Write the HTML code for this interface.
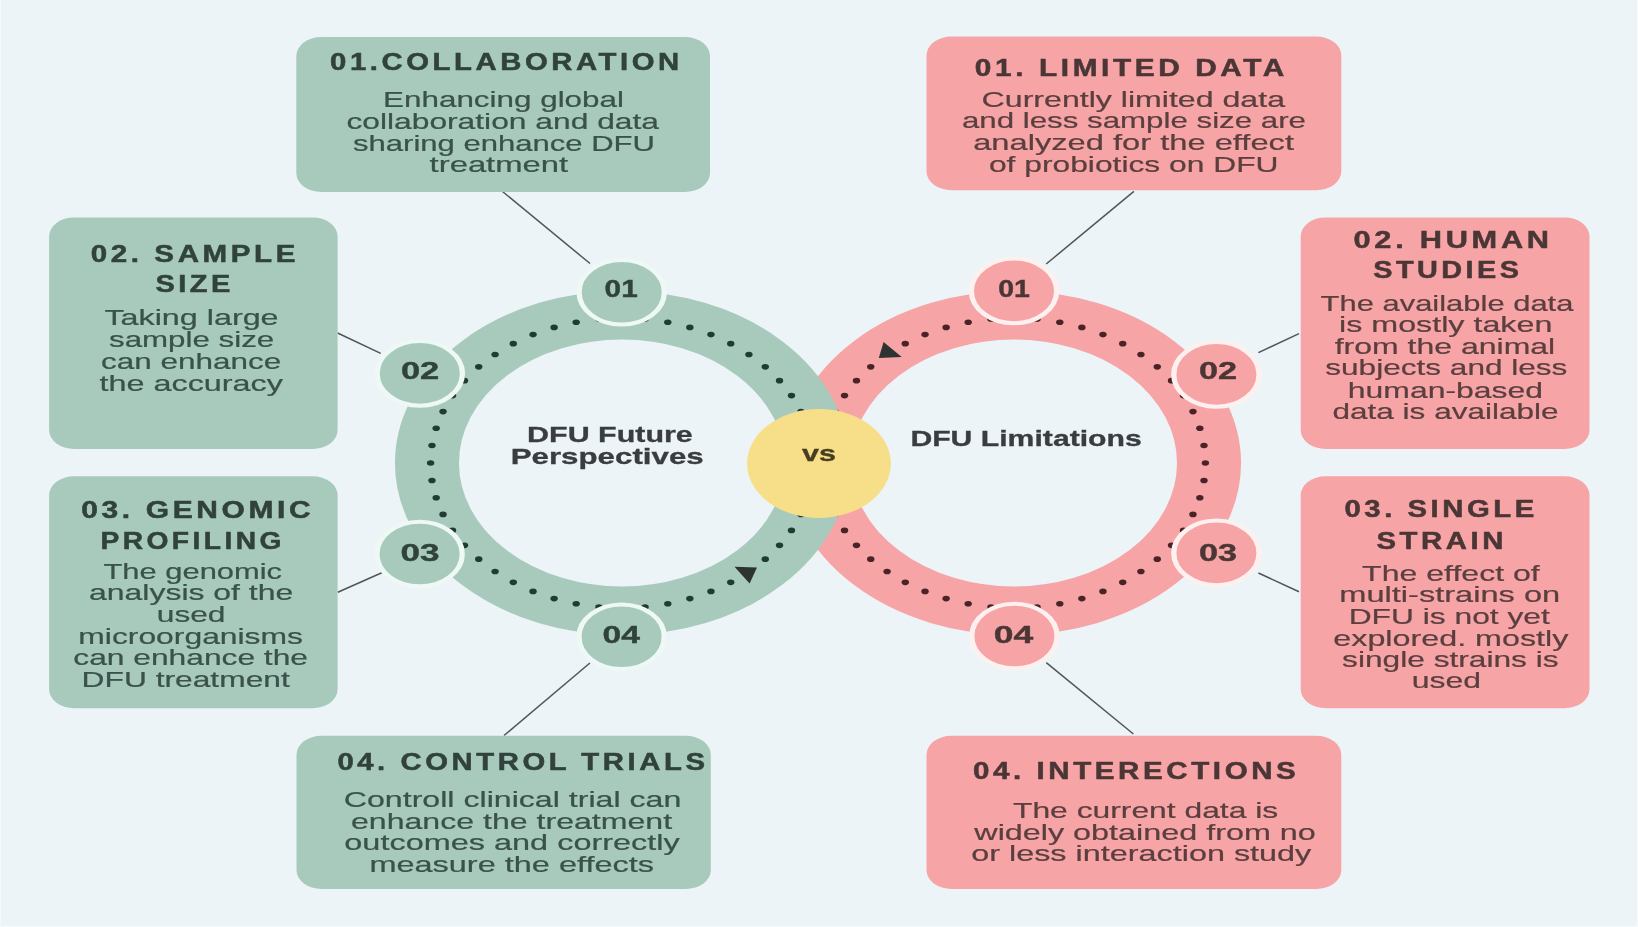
<!DOCTYPE html>
<html><head><meta charset="utf-8"><title>DFU Future Perspectives vs DFU Limitations</title>
<style>
html,body{margin:0;padding:0;background:#EDF4F7;overflow:hidden;}
svg{display:block;filter:blur(0.7px);}
text{font-family:"Liberation Sans",sans-serif;}
</style></head><body>
<svg width="1638" height="927" viewBox="0 0 1638 927">
<rect x="0" y="0" width="1638" height="927" fill="#EDF4F7"/>
<rect x="1637" y="0" width="1" height="927" fill="#F6FAFB"/>
<rect x="0" y="926" width="1638" height="1" fill="#F6FAFB"/>
<rect x="0" y="0" width="1" height="927" fill="#F4F9FA"/>
<g transform="scale(1.32,1)">
<line x1="380.682" y1="191.5" x2="446.97" y2="263.5" stroke="#505555" stroke-width="1.5" vector-effect="non-scaling-stroke"/>
<line x1="255.758" y1="333.0" x2="288.409" y2="353.4" stroke="#505555" stroke-width="1.5" vector-effect="non-scaling-stroke"/>
<line x1="255.909" y1="592.2" x2="289.242" y2="572.8" stroke="#505555" stroke-width="1.5" vector-effect="non-scaling-stroke"/>
<line x1="381.818" y1="735.5" x2="446.894" y2="663.0" stroke="#505555" stroke-width="1.5" vector-effect="non-scaling-stroke"/>
<line x1="792.576" y1="264.0" x2="859.015" y2="191.4" stroke="#505555" stroke-width="1.5" vector-effect="non-scaling-stroke"/>
<line x1="953.333" y1="352.6" x2="984.091" y2="333.6" stroke="#505555" stroke-width="1.5" vector-effect="non-scaling-stroke"/>
<line x1="953.333" y1="573.0" x2="984.091" y2="591.8" stroke="#505555" stroke-width="1.5" vector-effect="non-scaling-stroke"/>
<line x1="792.652" y1="662.6" x2="858.636" y2="734.0" stroke="#505555" stroke-width="1.5" vector-effect="non-scaling-stroke"/>
<rect x="224.47" y="37.0" width="313.409" height="155.0" rx="19.0" ry="19.0" fill="#A8CABD"/>
<rect x="37.197" y="217.4" width="218.561" height="231.6" rx="19.0" ry="19.0" fill="#A8CABD"/>
<rect x="37.197" y="476.3" width="218.561" height="231.9" rx="19.0" ry="19.0" fill="#A8CABD"/>
<rect x="224.621" y="735.7" width="313.864" height="153.3" rx="19.0" ry="19.0" fill="#A8CABD"/>
<rect x="701.894" y="36.5" width="314.242" height="153.8" rx="19.0" ry="19.0" fill="#F7A4A7"/>
<rect x="985.379" y="217.4" width="218.788" height="231.6" rx="19.0" ry="19.0" fill="#F7A4A7"/>
<rect x="985.379" y="476.3" width="218.788" height="231.9" rx="19.0" ry="19.0" fill="#F7A4A7"/>
<rect x="701.894" y="735.7" width="314.242" height="153.3" rx="19.0" ry="19.0" fill="#F7A4A7"/>
<circle cx="768.182" cy="463.0" r="147.75" fill="none" stroke="#F7A4A7" stroke-width="48.5"/>
<circle cx="913.18" cy="463.00" r="2.8" fill="#4A2326"/>
<circle cx="912.12" cy="480.48" r="2.8" fill="#4A2326"/>
<circle cx="908.97" cy="497.70" r="2.8" fill="#4A2326"/>
<circle cx="903.76" cy="514.42" r="2.8" fill="#4A2326"/>
<circle cx="896.57" cy="530.38" r="2.8" fill="#4A2326"/>
<circle cx="887.51" cy="545.37" r="2.8" fill="#4A2326"/>
<circle cx="876.72" cy="559.15" r="2.8" fill="#4A2326"/>
<circle cx="864.33" cy="571.53" r="2.8" fill="#4A2326"/>
<circle cx="850.55" cy="582.33" r="2.8" fill="#4A2326"/>
<circle cx="835.57" cy="591.39" r="2.8" fill="#4A2326"/>
<circle cx="819.60" cy="598.58" r="2.8" fill="#4A2326"/>
<circle cx="802.88" cy="603.79" r="2.8" fill="#4A2326"/>
<circle cx="785.66" cy="606.94" r="2.8" fill="#4A2326"/>
<circle cx="768.18" cy="608.00" r="2.8" fill="#4A2326"/>
<circle cx="750.70" cy="606.94" r="2.8" fill="#4A2326"/>
<circle cx="733.48" cy="603.79" r="2.8" fill="#4A2326"/>
<circle cx="716.76" cy="598.58" r="2.8" fill="#4A2326"/>
<circle cx="700.80" cy="591.39" r="2.8" fill="#4A2326"/>
<circle cx="685.81" cy="582.33" r="2.8" fill="#4A2326"/>
<circle cx="672.03" cy="571.53" r="2.8" fill="#4A2326"/>
<circle cx="659.65" cy="559.15" r="2.8" fill="#4A2326"/>
<circle cx="648.85" cy="545.37" r="2.8" fill="#4A2326"/>
<circle cx="639.79" cy="530.38" r="2.8" fill="#4A2326"/>
<circle cx="632.60" cy="514.42" r="2.8" fill="#4A2326"/>
<circle cx="627.40" cy="497.70" r="2.8" fill="#4A2326"/>
<circle cx="624.24" cy="480.48" r="2.8" fill="#4A2326"/>
<circle cx="623.18" cy="463.00" r="2.8" fill="#4A2326"/>
<circle cx="624.24" cy="445.52" r="2.8" fill="#4A2326"/>
<circle cx="627.40" cy="428.30" r="2.8" fill="#4A2326"/>
<circle cx="632.60" cy="411.58" r="2.8" fill="#4A2326"/>
<circle cx="639.79" cy="395.62" r="2.8" fill="#4A2326"/>
<circle cx="648.85" cy="380.63" r="2.8" fill="#4A2326"/>
<circle cx="659.65" cy="366.85" r="2.8" fill="#4A2326"/>
<circle cx="685.81" cy="343.67" r="2.8" fill="#4A2326"/>
<circle cx="700.80" cy="334.61" r="2.8" fill="#4A2326"/>
<circle cx="716.76" cy="327.42" r="2.8" fill="#4A2326"/>
<circle cx="733.48" cy="322.21" r="2.8" fill="#4A2326"/>
<circle cx="750.70" cy="319.06" r="2.8" fill="#4A2326"/>
<circle cx="768.18" cy="318.00" r="2.8" fill="#4A2326"/>
<circle cx="785.66" cy="319.06" r="2.8" fill="#4A2326"/>
<circle cx="802.88" cy="322.21" r="2.8" fill="#4A2326"/>
<circle cx="819.60" cy="327.42" r="2.8" fill="#4A2326"/>
<circle cx="835.57" cy="334.61" r="2.8" fill="#4A2326"/>
<circle cx="850.55" cy="343.67" r="2.8" fill="#4A2326"/>
<circle cx="864.33" cy="354.47" r="2.8" fill="#4A2326"/>
<circle cx="876.72" cy="366.85" r="2.8" fill="#4A2326"/>
<circle cx="887.51" cy="380.63" r="2.8" fill="#4A2326"/>
<circle cx="896.57" cy="395.62" r="2.8" fill="#4A2326"/>
<circle cx="903.76" cy="411.58" r="2.8" fill="#4A2326"/>
<circle cx="908.97" cy="428.30" r="2.8" fill="#4A2326"/>
<circle cx="912.12" cy="445.52" r="2.8" fill="#4A2326"/>
<polygon points="669.394,342.0 665.758,358.0 683.106,356.9" fill="#2C3331"/>
<circle cx="471.212" cy="463.0" r="147.75" fill="none" stroke="#A8CABD" stroke-width="48.5"/>
<circle cx="616.21" cy="463.00" r="2.8" fill="#1F3B33"/>
<circle cx="615.15" cy="480.48" r="2.8" fill="#1F3B33"/>
<circle cx="612.00" cy="497.70" r="2.8" fill="#1F3B33"/>
<circle cx="606.79" cy="514.42" r="2.8" fill="#1F3B33"/>
<circle cx="599.60" cy="530.38" r="2.8" fill="#1F3B33"/>
<circle cx="590.54" cy="545.37" r="2.8" fill="#1F3B33"/>
<circle cx="579.75" cy="559.15" r="2.8" fill="#1F3B33"/>
<circle cx="553.58" cy="582.33" r="2.8" fill="#1F3B33"/>
<circle cx="538.60" cy="591.39" r="2.8" fill="#1F3B33"/>
<circle cx="522.63" cy="598.58" r="2.8" fill="#1F3B33"/>
<circle cx="505.91" cy="603.79" r="2.8" fill="#1F3B33"/>
<circle cx="488.69" cy="606.94" r="2.8" fill="#1F3B33"/>
<circle cx="471.21" cy="608.00" r="2.8" fill="#1F3B33"/>
<circle cx="453.73" cy="606.94" r="2.8" fill="#1F3B33"/>
<circle cx="436.51" cy="603.79" r="2.8" fill="#1F3B33"/>
<circle cx="419.79" cy="598.58" r="2.8" fill="#1F3B33"/>
<circle cx="403.83" cy="591.39" r="2.8" fill="#1F3B33"/>
<circle cx="388.84" cy="582.33" r="2.8" fill="#1F3B33"/>
<circle cx="375.06" cy="571.53" r="2.8" fill="#1F3B33"/>
<circle cx="362.68" cy="559.15" r="2.8" fill="#1F3B33"/>
<circle cx="351.88" cy="545.37" r="2.8" fill="#1F3B33"/>
<circle cx="342.82" cy="530.38" r="2.8" fill="#1F3B33"/>
<circle cx="335.63" cy="514.42" r="2.8" fill="#1F3B33"/>
<circle cx="330.43" cy="497.70" r="2.8" fill="#1F3B33"/>
<circle cx="327.27" cy="480.48" r="2.8" fill="#1F3B33"/>
<circle cx="326.21" cy="463.00" r="2.8" fill="#1F3B33"/>
<circle cx="327.27" cy="445.52" r="2.8" fill="#1F3B33"/>
<circle cx="330.43" cy="428.30" r="2.8" fill="#1F3B33"/>
<circle cx="335.63" cy="411.58" r="2.8" fill="#1F3B33"/>
<circle cx="342.82" cy="395.62" r="2.8" fill="#1F3B33"/>
<circle cx="351.88" cy="380.63" r="2.8" fill="#1F3B33"/>
<circle cx="362.68" cy="366.85" r="2.8" fill="#1F3B33"/>
<circle cx="375.06" cy="354.47" r="2.8" fill="#1F3B33"/>
<circle cx="388.84" cy="343.67" r="2.8" fill="#1F3B33"/>
<circle cx="403.83" cy="334.61" r="2.8" fill="#1F3B33"/>
<circle cx="419.79" cy="327.42" r="2.8" fill="#1F3B33"/>
<circle cx="436.51" cy="322.21" r="2.8" fill="#1F3B33"/>
<circle cx="453.73" cy="319.06" r="2.8" fill="#1F3B33"/>
<circle cx="471.21" cy="318.00" r="2.8" fill="#1F3B33"/>
<circle cx="488.69" cy="319.06" r="2.8" fill="#1F3B33"/>
<circle cx="505.91" cy="322.21" r="2.8" fill="#1F3B33"/>
<circle cx="522.63" cy="327.42" r="2.8" fill="#1F3B33"/>
<circle cx="538.60" cy="334.61" r="2.8" fill="#1F3B33"/>
<circle cx="553.58" cy="343.67" r="2.8" fill="#1F3B33"/>
<circle cx="567.36" cy="354.47" r="2.8" fill="#1F3B33"/>
<circle cx="579.75" cy="366.85" r="2.8" fill="#1F3B33"/>
<circle cx="590.54" cy="380.63" r="2.8" fill="#1F3B33"/>
<circle cx="599.60" cy="395.62" r="2.8" fill="#1F3B33"/>
<circle cx="606.79" cy="411.58" r="2.8" fill="#1F3B33"/>
<circle cx="612.00" cy="428.30" r="2.8" fill="#1F3B33"/>
<circle cx="615.15" cy="445.52" r="2.8" fill="#1F3B33"/>
<polygon points="556.439,566.7 573.485,567.5 567.879,583.5" fill="#2C3331"/>
<circle cx="620.455" cy="463.5" r="54.5" fill="#F7DE88"/>
<circle cx="470.985" cy="292.3" r="32.3" fill="#A8CABD" stroke="#EEF8F5" stroke-width="4.0"/>
<circle cx="318.03" cy="373.4" r="32.3" fill="#A8CABD" stroke="#EEF8F5" stroke-width="4.0"/>
<circle cx="317.879" cy="554.0" r="32.3" fill="#A8CABD" stroke="#EEF8F5" stroke-width="4.0"/>
<circle cx="470.909" cy="636.7" r="32.3" fill="#A8CABD" stroke="#EEF8F5" stroke-width="4.0"/>
<circle cx="768.182" cy="290.9" r="32.3" fill="#F7A4A7" stroke="#FDF1F0" stroke-width="4.0"/>
<circle cx="921.515" cy="374.4" r="32.3" fill="#F7A4A7" stroke="#FDF1F0" stroke-width="4.0"/>
<circle cx="921.515" cy="552.9" r="32.3" fill="#F7A4A7" stroke="#FDF1F0" stroke-width="4.0"/>
<circle cx="768.485" cy="636.0" r="32.3" fill="#F7A4A7" stroke="#FDF1F0" stroke-width="4.0"/>
<text x="250.076" y="70.2" font-size="23.0" font-weight="bold" fill="#30423B" stroke="#30423B" stroke-width="0.5" letter-spacing="2.8" textLength="267.121" lengthAdjust="spacingAndGlyphs">01.COLLABORATION</text>
<text x="68.712" y="261.7" font-size="23.0" font-weight="bold" fill="#30423B" stroke="#30423B" stroke-width="0.5" letter-spacing="2.8" textLength="157.803" lengthAdjust="spacingAndGlyphs">02. SAMPLE</text>
<text x="117.727" y="292.5" font-size="23.0" font-weight="bold" fill="#30423B" stroke="#30423B" stroke-width="0.5" letter-spacing="2.8" textLength="59.47" lengthAdjust="spacingAndGlyphs">SIZE</text>
<text x="61.591" y="518.0" font-size="23.0" font-weight="bold" fill="#30423B" stroke="#30423B" stroke-width="0.5" letter-spacing="2.8" textLength="176.515" lengthAdjust="spacingAndGlyphs">03. GENOMIC</text>
<text x="76.136" y="549.2" font-size="23.0" font-weight="bold" fill="#30423B" stroke="#30423B" stroke-width="0.5" letter-spacing="2.8" textLength="139.621" lengthAdjust="spacingAndGlyphs">PROFILING</text>
<text x="255.606" y="770.3" font-size="23.0" font-weight="bold" fill="#30423B" stroke="#30423B" stroke-width="0.5" letter-spacing="2.8" textLength="281.136" lengthAdjust="spacingAndGlyphs">04. CONTROL TRIALS</text>
<text x="290.227" y="107.2" font-size="22.6" font-weight="normal" fill="#3A524A" stroke="#3A524A" stroke-width="0.22" textLength="182.5" lengthAdjust="spacingAndGlyphs">Enhancing global</text>
<text x="262.424" y="128.8" font-size="22.6" font-weight="normal" fill="#3A524A" stroke="#3A524A" stroke-width="0.22" textLength="236.818" lengthAdjust="spacingAndGlyphs">collaboration and data</text>
<text x="267.424" y="150.7" font-size="22.6" font-weight="normal" fill="#3A524A" stroke="#3A524A" stroke-width="0.22" textLength="228.788" lengthAdjust="spacingAndGlyphs">sharing enhance DFU</text>
<text x="325.455" y="172.2" font-size="22.6" font-weight="normal" fill="#3A524A" stroke="#3A524A" stroke-width="0.22" textLength="105.0" lengthAdjust="spacingAndGlyphs">treatment</text>
<text x="79.091" y="324.8" font-size="22.6" font-weight="normal" fill="#3A524A" stroke="#3A524A" stroke-width="0.22" textLength="131.97" lengthAdjust="spacingAndGlyphs">Taking large</text>
<text x="82.576" y="347.2" font-size="22.6" font-weight="normal" fill="#3A524A" stroke="#3A524A" stroke-width="0.22" textLength="125.152" lengthAdjust="spacingAndGlyphs">sample size</text>
<text x="76.591" y="368.8" font-size="22.6" font-weight="normal" fill="#3A524A" stroke="#3A524A" stroke-width="0.22" textLength="136.439" lengthAdjust="spacingAndGlyphs">can enhance</text>
<text x="75.379" y="390.7" font-size="22.6" font-weight="normal" fill="#3A524A" stroke="#3A524A" stroke-width="0.22" textLength="139.015" lengthAdjust="spacingAndGlyphs">the accuracy</text>
<text x="78.409" y="579.2" font-size="22.6" font-weight="normal" fill="#3A524A" stroke="#3A524A" stroke-width="0.22" textLength="135.227" lengthAdjust="spacingAndGlyphs">The genomic</text>
<text x="67.5" y="600.2" font-size="22.6" font-weight="normal" fill="#3A524A" stroke="#3A524A" stroke-width="0.22" textLength="154.621" lengthAdjust="spacingAndGlyphs">analysis of the</text>
<text x="118.788" y="622.0" font-size="22.6" font-weight="normal" fill="#3A524A" stroke="#3A524A" stroke-width="0.22" textLength="52.045" lengthAdjust="spacingAndGlyphs">used</text>
<text x="59.318" y="643.7" font-size="22.6" font-weight="normal" fill="#3A524A" stroke="#3A524A" stroke-width="0.22" textLength="170.227" lengthAdjust="spacingAndGlyphs">microorganisms</text>
<text x="55.53" y="664.7" font-size="22.6" font-weight="normal" fill="#3A524A" stroke="#3A524A" stroke-width="0.22" textLength="177.803" lengthAdjust="spacingAndGlyphs">can enhance the</text>
<text x="61.818" y="686.6" font-size="22.6" font-weight="normal" fill="#3A524A" stroke="#3A524A" stroke-width="0.22" textLength="157.727" lengthAdjust="spacingAndGlyphs">DFU treatment</text>
<text x="260.455" y="807.4" font-size="22.6" font-weight="normal" fill="#3A524A" stroke="#3A524A" stroke-width="0.22" textLength="255.682" lengthAdjust="spacingAndGlyphs">Controll clinical trial can</text>
<text x="265.909" y="829.3" font-size="22.6" font-weight="normal" fill="#3A524A" stroke="#3A524A" stroke-width="0.22" textLength="243.258" lengthAdjust="spacingAndGlyphs">enhance the treatment</text>
<text x="260.833" y="850.5" font-size="22.6" font-weight="normal" fill="#3A524A" stroke="#3A524A" stroke-width="0.22" textLength="254.167" lengthAdjust="spacingAndGlyphs">outcomes and correctly</text>
<text x="279.848" y="872.5" font-size="22.6" font-weight="normal" fill="#3A524A" stroke="#3A524A" stroke-width="0.22" textLength="215.606" lengthAdjust="spacingAndGlyphs">measure the effects</text>
<text x="738.485" y="75.8" font-size="23.0" font-weight="bold" fill="#4B3636" stroke="#4B3636" stroke-width="0.5" letter-spacing="2.8" textLength="237.273" lengthAdjust="spacingAndGlyphs">01. LIMITED DATA</text>
<text x="1025.379" y="247.7" font-size="23.0" font-weight="bold" fill="#4B3636" stroke="#4B3636" stroke-width="0.5" letter-spacing="2.8" textLength="150.985" lengthAdjust="spacingAndGlyphs">02. HUMAN</text>
<text x="1040.303" y="278.5" font-size="23.0" font-weight="bold" fill="#4B3636" stroke="#4B3636" stroke-width="0.5" letter-spacing="2.8" textLength="113.106" lengthAdjust="spacingAndGlyphs">STUDIES</text>
<text x="1018.561" y="517.5" font-size="23.0" font-weight="bold" fill="#4B3636" stroke="#4B3636" stroke-width="0.5" letter-spacing="2.8" textLength="146.439" lengthAdjust="spacingAndGlyphs">03. SINGLE</text>
<text x="1042.803" y="548.9" font-size="23.0" font-weight="bold" fill="#4B3636" stroke="#4B3636" stroke-width="0.5" letter-spacing="2.8" textLength="98.788" lengthAdjust="spacingAndGlyphs">STRAIN</text>
<text x="737.045" y="779.0" font-size="23.0" font-weight="bold" fill="#4B3636" stroke="#4B3636" stroke-width="0.5" letter-spacing="2.8" textLength="247.348" lengthAdjust="spacingAndGlyphs">04. INTERECTIONS</text>
<text x="743.636" y="107.4" font-size="22.6" font-weight="normal" fill="#5B3F3F" stroke="#5B3F3F" stroke-width="0.22" textLength="229.848" lengthAdjust="spacingAndGlyphs">Currently limited data</text>
<text x="728.712" y="128.5" font-size="22.6" font-weight="normal" fill="#5B3F3F" stroke="#5B3F3F" stroke-width="0.22" textLength="260.682" lengthAdjust="spacingAndGlyphs">and less sample size are</text>
<text x="737.273" y="150.0" font-size="22.6" font-weight="normal" fill="#5B3F3F" stroke="#5B3F3F" stroke-width="0.22" textLength="243.03" lengthAdjust="spacingAndGlyphs">analyzed for the effect</text>
<text x="749.167" y="171.6" font-size="22.6" font-weight="normal" fill="#5B3F3F" stroke="#5B3F3F" stroke-width="0.22" textLength="219.47" lengthAdjust="spacingAndGlyphs">of probiotics on DFU</text>
<text x="1000.455" y="310.8" font-size="22.6" font-weight="normal" fill="#5B3F3F" stroke="#5B3F3F" stroke-width="0.22" textLength="191.515" lengthAdjust="spacingAndGlyphs">The available data</text>
<text x="1014.394" y="332.4" font-size="22.6" font-weight="normal" fill="#5B3F3F" stroke="#5B3F3F" stroke-width="0.22" textLength="161.667" lengthAdjust="spacingAndGlyphs">is mostly taken</text>
<text x="1011.136" y="354.2" font-size="22.6" font-weight="normal" fill="#5B3F3F" stroke="#5B3F3F" stroke-width="0.22" textLength="167.045" lengthAdjust="spacingAndGlyphs">from the animal</text>
<text x="1004.015" y="375.3" font-size="22.6" font-weight="normal" fill="#5B3F3F" stroke="#5B3F3F" stroke-width="0.22" textLength="183.409" lengthAdjust="spacingAndGlyphs">subjects and less</text>
<text x="1021.061" y="397.7" font-size="22.6" font-weight="normal" fill="#5B3F3F" stroke="#5B3F3F" stroke-width="0.22" textLength="147.879" lengthAdjust="spacingAndGlyphs">human-based</text>
<text x="1009.47" y="418.7" font-size="22.6" font-weight="normal" fill="#5B3F3F" stroke="#5B3F3F" stroke-width="0.22" textLength="171.288" lengthAdjust="spacingAndGlyphs">data is available</text>
<text x="1031.894" y="580.6" font-size="22.6" font-weight="normal" fill="#5B3F3F" stroke="#5B3F3F" stroke-width="0.22" textLength="134.621" lengthAdjust="spacingAndGlyphs">The effect of</text>
<text x="1014.621" y="602.5" font-size="22.6" font-weight="normal" fill="#5B3F3F" stroke="#5B3F3F" stroke-width="0.22" textLength="167.348" lengthAdjust="spacingAndGlyphs">multi-strains on</text>
<text x="1021.742" y="624.0" font-size="22.6" font-weight="normal" fill="#5B3F3F" stroke="#5B3F3F" stroke-width="0.22" textLength="152.348" lengthAdjust="spacingAndGlyphs">DFU is not yet</text>
<text x="1010.076" y="645.6" font-size="22.6" font-weight="normal" fill="#5B3F3F" stroke="#5B3F3F" stroke-width="0.22" textLength="178.106" lengthAdjust="spacingAndGlyphs">explored. mostly</text>
<text x="1016.742" y="667.5" font-size="22.6" font-weight="normal" fill="#5B3F3F" stroke="#5B3F3F" stroke-width="0.22" textLength="164.015" lengthAdjust="spacingAndGlyphs">single strains is</text>
<text x="1069.545" y="688.5" font-size="22.6" font-weight="normal" fill="#5B3F3F" stroke="#5B3F3F" stroke-width="0.22" textLength="52.5" lengthAdjust="spacingAndGlyphs">used</text>
<text x="767.424" y="818.0" font-size="22.6" font-weight="normal" fill="#5B3F3F" stroke="#5B3F3F" stroke-width="0.22" textLength="200.909" lengthAdjust="spacingAndGlyphs">The current data is</text>
<text x="738.106" y="840.0" font-size="22.6" font-weight="normal" fill="#5B3F3F" stroke="#5B3F3F" stroke-width="0.22" textLength="258.712" lengthAdjust="spacingAndGlyphs">widely obtained from no</text>
<text x="735.758" y="861.5" font-size="22.6" font-weight="normal" fill="#5B3F3F" stroke="#5B3F3F" stroke-width="0.22" textLength="257.652" lengthAdjust="spacingAndGlyphs">or less interaction study</text>
<text x="399.318" y="442.2" font-size="22.4" font-weight="bold" fill="#3A3D3F" stroke="#3A3D3F" stroke-width="0.3" textLength="125.53" lengthAdjust="spacingAndGlyphs">DFU Future</text>
<text x="386.894" y="464.0" font-size="22.4" font-weight="bold" fill="#3A3D3F" stroke="#3A3D3F" stroke-width="0.3" textLength="146.212" lengthAdjust="spacingAndGlyphs">Perspectives</text>
<text x="689.697" y="446.3" font-size="22.4" font-weight="bold" fill="#3A3D3F" stroke="#3A3D3F" stroke-width="0.3" textLength="175.303" lengthAdjust="spacingAndGlyphs">DFU Limitations</text>
<text x="607.576" y="461.0" font-size="21.5" font-weight="bold" fill="#473D22" stroke="#473D22" stroke-width="0.3" textLength="25.758" lengthAdjust="spacingAndGlyphs">vs</text>
<text x="458.03" y="297.5" font-size="24.0" font-weight="bold" fill="#30423B" stroke="#30423B" stroke-width="0.4" textLength="25.076" lengthAdjust="spacingAndGlyphs">01</text>
<text x="303.712" y="378.8" font-size="24.0" font-weight="bold" fill="#30423B" stroke="#30423B" stroke-width="0.4" textLength="29.091" lengthAdjust="spacingAndGlyphs">02</text>
<text x="303.333" y="560.6" font-size="24.0" font-weight="bold" fill="#30423B" stroke="#30423B" stroke-width="0.4" textLength="29.621" lengthAdjust="spacingAndGlyphs">03</text>
<text x="456.439" y="642.9" font-size="24.0" font-weight="bold" fill="#30423B" stroke="#30423B" stroke-width="0.4" textLength="28.333" lengthAdjust="spacingAndGlyphs">04</text>
<text x="756.212" y="297.3" font-size="24.0" font-weight="bold" fill="#4B3636" stroke="#4B3636" stroke-width="0.4" textLength="24.015" lengthAdjust="spacingAndGlyphs">01</text>
<text x="908.333" y="378.9" font-size="24.0" font-weight="bold" fill="#4B3636" stroke="#4B3636" stroke-width="0.4" textLength="28.864" lengthAdjust="spacingAndGlyphs">02</text>
<text x="908.333" y="560.7" font-size="24.0" font-weight="bold" fill="#4B3636" stroke="#4B3636" stroke-width="0.4" textLength="28.864" lengthAdjust="spacingAndGlyphs">03</text>
<text x="752.879" y="643.0" font-size="24.0" font-weight="bold" fill="#4B3636" stroke="#4B3636" stroke-width="0.4" textLength="29.924" lengthAdjust="spacingAndGlyphs">04</text>
</g>
</svg>
</body></html>
